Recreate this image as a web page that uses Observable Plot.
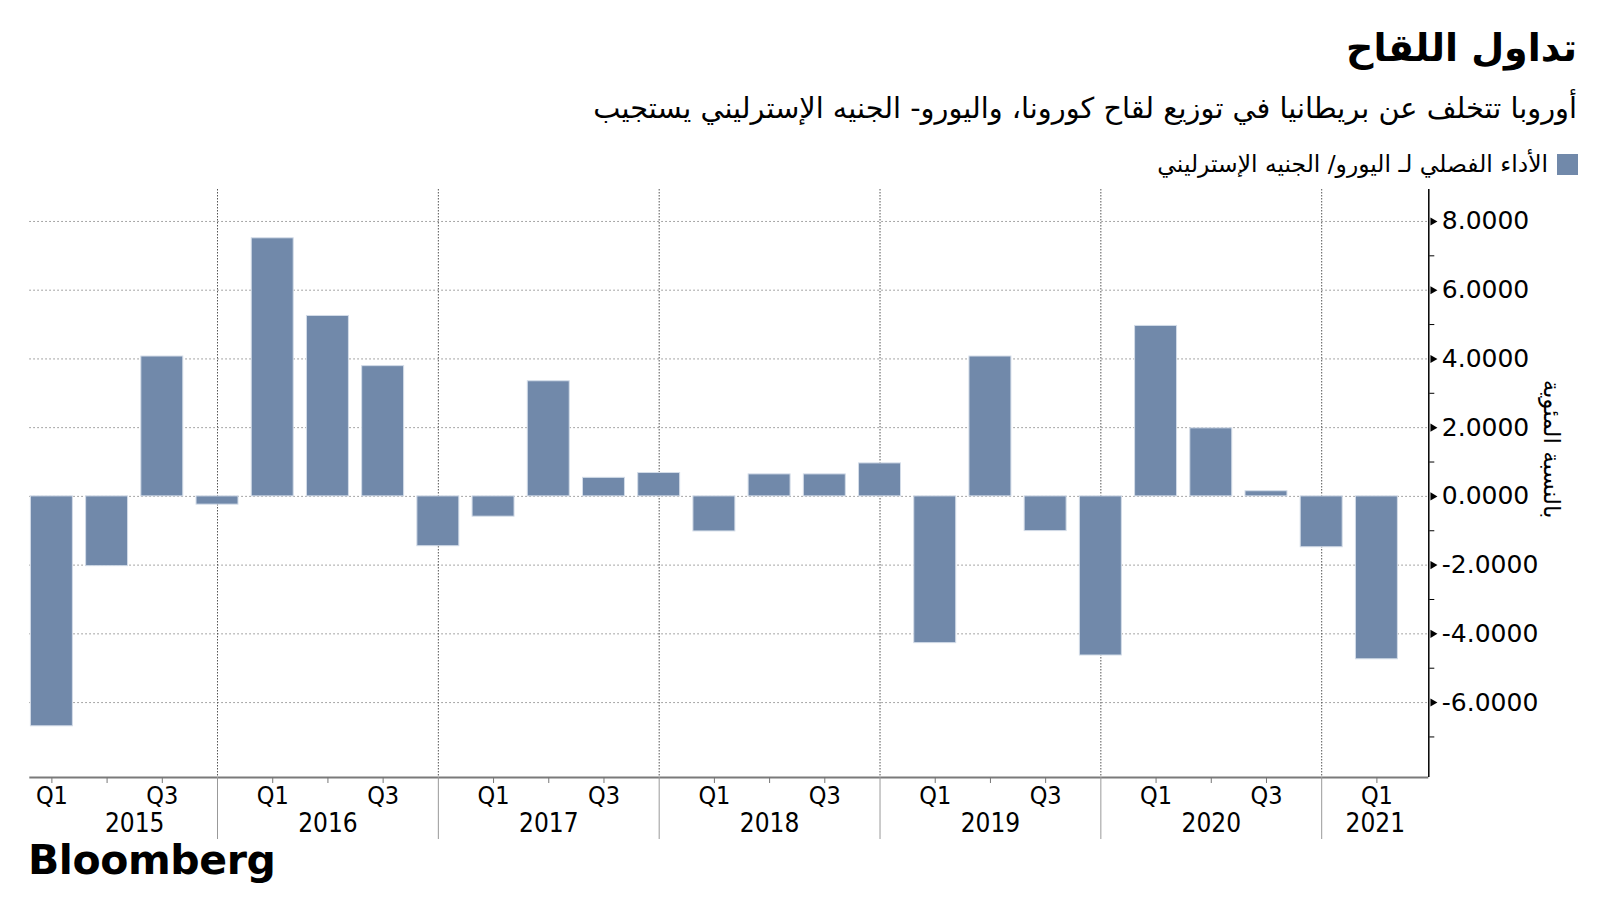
<!DOCTYPE html>
<html>
<head>
<meta charset="utf-8">
<script src="https://cdn.jsdelivr.net/npm/d3@7"></script>
<script src="https://cdn.jsdelivr.net/npm/@observablehq/plot@0.6"></script>
<style>
  html, body { margin: 0; padding: 0; background: #fff; }
  #page { position: relative; width: 1600px; height: 900px; overflow: hidden; background: #fff; color: #000; }
  .ar { font-family: "DejaVu Sans", "Noto Sans", sans-serif; direction: rtl; position: absolute; white-space: nowrap; line-height: 1; }
  #title { right: 23px; top: 29px; font-size: 38px; font-weight: bold; }
  #subtitle { right: 23px; top: 94px; font-size: 28.8px; }
  #legend { right: 22px; top: 153px; display: flex; align-items: center; gap: 9px; font-size: 23.4px; }
  #legend .sw { width: 21px; height: 21px; background: #7189aa; display: inline-block; }
  #ytitle { left: 1551px; top: 449px; font-size: 23px; transform: translate(-50%, -50%) rotate(90deg); }
  #chart { position: absolute; left: 0; top: 180px; }
  #logo { position: absolute; left: 28px; top: 845px; font-family: "DejaVu Sans", sans-serif; font-weight: bold; font-size: 41px; line-height: 0.75; letter-spacing: -0.4px; }
</style>
</head>
<body>
<div id="page">
  <div id="title" class="ar">تداول اللقاح</div>
  <div id="subtitle" class="ar">أوروبا تتخلف عن بريطانيا في توزيع لقاح كورونا، واليورو- الجنيه الإسترليني يستجيب</div>
  <div id="legend" class="ar"><span class="sw"></span><span>الأداء الفصلي لـ اليورو/ الجنيه الإسترليني</span></div>
  <div id="ytitle" class="ar">بالنسبة المئوية</div>
  <div id="chart"></div>
  <div id="logo">Bloomberg</div>
</div>
<script>
// ---- data ----
const years = [2015, 2016, 2017, 2018, 2019, 2020, 2021];
const quarterNames = ["Q1", "Q2", "Q3", "Q4"];
const values = [
  -6.69, -2.03, 4.07, -0.24,   // 2015
   7.51,  5.25, 3.79, -1.45,   // 2016
  -0.59,  3.35, 0.54,  0.68,   // 2017
  -1.02,  0.64, 0.64,  0.96,   // 2018
  -4.27,  4.07, -1.01, -4.63,  // 2019
   4.96,  1.98, 0.15, -1.48,   // 2020
  -4.74                        // 2021
];
const yTicks = [-6, -4, -2, 0, 2, 4, 6, 8];
const yMinorTicks = [-7, -5, -3, -1, 1, 3, 5, 7];

// ---- derived ----
const data = values.map((v, i) => ({ i, v, year: years[Math.floor(i / 4)], q: quarterNames[i % 4] }));
const xDomain = [-0.40, 24.94];
const yDomain = [-8.18, 8.93];
const separators = data.filter(d => d.q === "Q4").map(d => d.i);
const minorX = data.filter(d => d.q !== "Q4").map(d => d.i);
const labelX = data.filter(d => d.q === "Q1" || d.q === "Q3").map(d => d.i);
const yearByPos = new Map();
years.forEach((y, k) => {
  const lo = Math.max(0, 4 * k - 1);
  const hi = Math.min(xDomain[1], 4 * k + 3);
  yearByPos.set((lo + hi) / 2, String(y));
});
const yearPos = Array.from(yearByPos.keys());
const condensed = '"DejaVu Sans Condensed", "Liberation Sans Narrow", "DejaVu Sans", sans-serif';

const chart = Plot.plot({
  width: 1600,
  height: 662,
  marginTop: 9,
  marginBottom: 65,
  marginLeft: 29.3,
  marginRight: 171.7,
  x: { domain: xDomain, axis: null, label: null },
  y: { domain: yDomain, axis: null, label: null },
  style: { fontFamily: '"DejaVu Sans", sans-serif', background: "transparent", overflow: "visible", color: "#000" },
  marks: [
    Plot.gridY(yTicks, { stroke: "#8a8a8a", strokeOpacity: 1, strokeWidth: 1, strokeDasharray: "1.5,2.5" }),
    Plot.gridX(separators, { stroke: "#555", strokeOpacity: 1, strokeWidth: 1, strokeDasharray: "1.5,1.5" }),
    Plot.rect(data, {
      x1: d => d.i - 0.38, x2: d => d.i + 0.38,
      y1: () => 0, y2: "v",
      fill: "#7189aa", stroke: "#d3dce8", strokeWidth: 1
    }),
    Plot.ruleY([yDomain[0]], { stroke: "#7a7a7a", strokeWidth: 2 }),
    Plot.ruleX([xDomain[1]], { stroke: "#000", strokeWidth: 1.5 }),
    Plot.axisX(minorX, { tickSize: 6, text: null, stroke: "#777", label: null }),
    Plot.axisX(separators, { tickSize: 62, text: null, stroke: "#999", label: null }),
    Plot.axisX(labelX, { tickSize: 0, tickPadding: 9, tickFormat: i => quarterNames[i % 4], fontSize: 25, fontFamily: condensed, fill: "#000", label: null }),
    Plot.axisX(yearPos, { tickSize: 0, tickPadding: 36.5, tickFormat: d => yearByPos.get(d), fontSize: 26, fontFamily: condensed, fill: "#000", label: null }),
    Plot.axisY(yMinorTicks, { anchor: "right", tickSize: 5, text: null, stroke: "#000", label: null }),
    Plot.axisY(yTicks, { anchor: "right", tickSize: 0, tickPadding: 13, tickFormat: d => d.toFixed(4), fontSize: 25, fill: "#000", label: null }),
    Plot.dot(yTicks, { x: () => xDomain[1], y: d => d, symbol: "triangle", r: 3, rotate: 90, dx: 4, fill: "#000", stroke: null })
  ]
});
document.getElementById("chart").appendChild(chart);
</script>
</body>
</html>
